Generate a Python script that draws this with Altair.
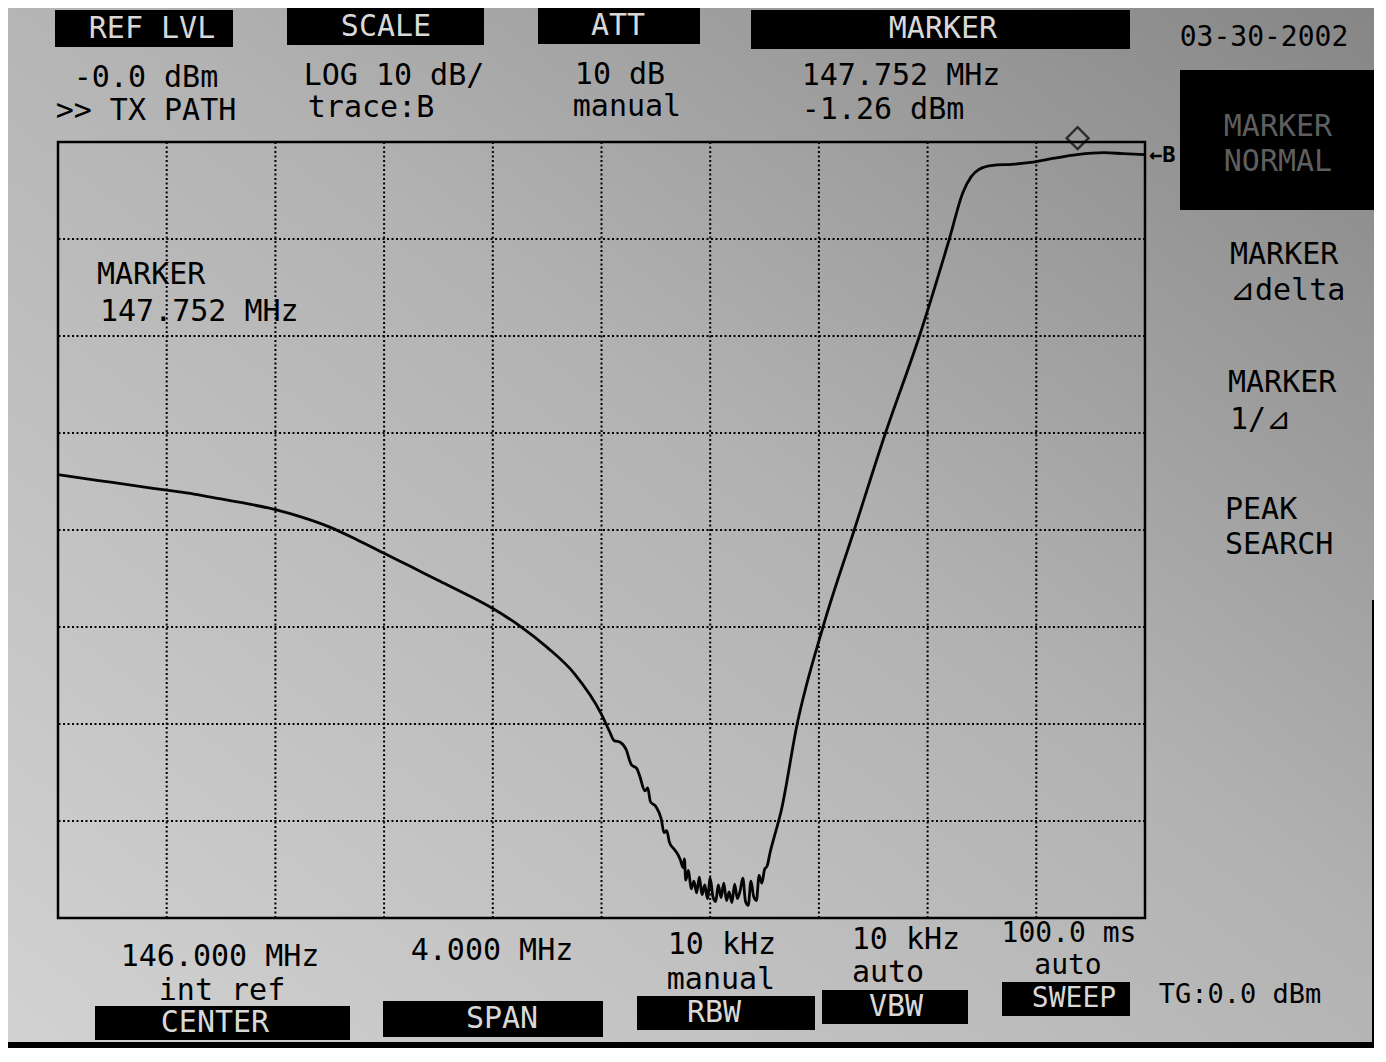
import altair as alt
import pandas as pd

freq_mhz = [
    144.00, 144.10, 144.20, 144.30, 144.40, 144.50, 144.60, 144.70, 144.80, 144.90,
    145.00, 145.10, 145.20, 145.30, 145.40, 145.50, 145.60, 145.70, 145.80, 145.90,
    146.00, 146.03, 146.046, 146.07, 146.09, 146.11, 146.13, 146.14, 146.16, 146.17,
    146.18, 146.20, 146.22, 146.23, 146.24, 146.25, 146.27, 146.28, 146.29, 146.30,
    146.305, 146.31, 146.32, 146.33, 146.34, 146.35, 146.36, 146.37, 146.38, 146.39,
    146.40, 146.41, 146.42, 146.43, 146.44, 146.45, 146.46, 146.47, 146.48, 146.49,
    146.50, 146.51, 146.52, 146.53, 146.54, 146.55, 146.56, 146.57, 146.58, 146.59,
    146.60, 146.61, 146.62, 146.64, 146.66, 146.72, 146.815, 146.93, 147.045, 147.17,
    147.28, 147.33, 147.36, 147.39, 147.44, 147.51, 147.58, 147.66, 147.75, 147.85,
    147.92, 148.00,
]
level_dbm = [
    -34.3, -34.7, -35.1, -35.5, -35.9, -36.3, -36.8, -37.3, -37.9, -38.7,
    -39.7, -41.0, -42.4, -43.8, -45.2, -46.6, -48.1, -49.9, -52.1, -54.8,
    -59.0, -60.8, -61.7, -61.9, -62.6, -64.2, -64.6, -65.3, -66.9, -66.6,
    -68.0, -68.5, -69.8, -71.2, -71.0, -72.2, -73.0, -73.4, -74.0, -74.8,
    -73.9, -76.1, -75.1, -77.0, -76.2, -77.4, -75.8, -77.6, -76.6, -78.0,
    -75.9, -77.8, -78.3, -76.6, -77.9, -76.4, -78.2, -77.3, -78.4, -76.5,
    -78.0, -77.2, -75.9, -78.3, -78.7, -76.2, -77.8, -78.2, -75.6, -76.4,
    -75.0, -74.6, -73.3, -71.2, -69.1, -60.0, -50.0, -40.0, -30.0, -20.0,
    -10.0, -5.2, -3.6, -2.8, -2.4, -2.3, -2.1, -1.7, -1.3, -1.1,
    -1.2, -1.3,
]
marker_freq = [147.752]
marker_level = [-1.26]
x_grid = [144.4, 144.8, 145.2, 145.6, 146.0, 146.4, 146.8, 147.2, 147.6]
y_grid = [-10, -20, -30, -40, -50, -60, -70]
x_domain = [144.0, 148.0]
y_domain = [-80.0, 0.0]

# ---- layout ----
OX, OY = 58, 142          # plot origin in page pixels
W, H = 1087, 776          # plot area
PAD = {"left": 50, "top": 134, "right": 229, "bottom": 130}
FONT = "DejaVu Sans Mono"
FS = 30

xs = alt.Scale(domain=x_domain, nice=False, zero=False)
ys = alt.Scale(domain=y_domain, nice=False, zero=False)
one = alt.Data(values=[{"k": 1}])


def txt(s, px, py, size=FS, color="black", align="center", weight="normal"):
    return alt.Chart(one).mark_text(
        text=s, fontSize=size, color=color, align=align, baseline="middle",
        font=FONT, fontWeight=weight
    ).encode(x=alt.value(px - OX), y=alt.value(py - OY))


def box(x1, y1, x2, y2, color="black"):
    return alt.Chart(one).mark_rect(color=color).encode(
        x=alt.value(x1 - OX), x2=alt.value(x2 - OX),
        y=alt.value(y1 - OY), y2=alt.value(y2 - OY)
    )


grad = alt.LinearGradient(
    gradient="linear",
    stops=[alt.GradientStop(offset=0, color="#d2d2d2"),
           alt.GradientStop(offset=0.55, color="#b2b2b2"),
           alt.GradientStop(offset=1, color="#868686")],
    x1=0, x2=1, y1=1, y2=0,
)
bg = alt.Chart(one).mark_rect(color=grad).encode(
    x=alt.value(-PAD["left"]), x2=alt.value(W + PAD["right"]),
    y=alt.value(-PAD["top"]), y2=alt.value(H + PAD["bottom"])
)

trace_df = pd.DataFrame({"f": freq_mhz, "dbm": level_dbm})
vgrid = alt.Chart(pd.DataFrame({"f": x_grid})).mark_rule(
    color="#000000", strokeDash=[2, 2.5], strokeWidth=2
).encode(x=alt.X("f:Q", scale=xs, axis=None))
hgrid = alt.Chart(pd.DataFrame({"d": y_grid})).mark_rule(
    color="#000000", strokeDash=[2, 2.5], strokeWidth=2
).encode(y=alt.Y("d:Q", scale=ys, axis=None))

trace = alt.Chart(trace_df).mark_line(
    color="#050505", strokeWidth=2.8, interpolate="monotone"
).encode(
    x=alt.X("f:Q", scale=xs, axis=None),
    y=alt.Y("dbm:Q", scale=ys, axis=None),
)
marker = alt.Chart(pd.DataFrame({"f": marker_freq, "dbm": marker_level})).mark_point(
    shape="diamond", filled=False, color="black", size=480, strokeWidth=2.4, yOffset=-16
).encode(x=alt.X("f:Q", scale=xs), y=alt.Y("dbm:Q", scale=ys))

frame = alt.Chart(one).mark_rect(fillOpacity=0, stroke="black", strokeWidth=2.5).encode(
    x=alt.value(0), x2=alt.value(W), y=alt.value(0), y2=alt.value(H)
)

L = "#d8d8d8"
layers = [bg, vgrid, hgrid, trace, marker, frame,
          # outer dark edges of the photo
          box(1372, 600, 1400, 1080), box(-10, 1042, 1400, 1080),
          # header boxes
          box(55, 10, 233, 47), txt("REF LVL", 152, 29, color=L),
          box(287, 8, 484, 45), txt("SCALE", 386, 27, color=L),
          box(538, 8, 700, 44), txt("ATT", 618, 26, color=L),
          box(751, 10, 1130, 49), txt("MARKER", 943, 29, color=L),
          txt("03-30-2002", 1264, 38, size=28),
          box(1180, 70, 1376, 210), txt("MARKER", 1278, 127, color="#5e5e5e"),
          txt("NORMAL", 1278, 162, color="#5e5e5e"),
          # header values
          txt("-0.0 dBm", 146, 78), txt(">> TX PATH", 146, 111),
          txt("LOG 10 dB/", 394, 76), txt("trace:B", 371, 108),
          txt("10 dB", 620, 75), txt("manual", 627, 107),
          txt("147.752 MHz", 901, 76), txt("-1.26 dBm", 883, 110),
          # in-plot marker readout
          txt("MARKER", 97, 275, align="left"), txt("147.752 MHz", 100, 312, align="left"),
          txt("\u2190B", 1149, 155, size=22, align="left", weight="bold"),
          # right soft-key labels
          txt("MARKER", 1230, 255, align="left"), txt("\u22bfdelta", 1230, 291, align="left"),
          txt("MARKER", 1228, 383, align="left"), txt("1/\u22bf", 1230, 420, align="left"),
          txt("PEAK", 1225, 510, align="left"), txt("SEARCH", 1225, 545, align="left"),
          # bottom readouts
          txt("146.000 MHz", 220, 957), txt("int ref", 222, 991),
          box(95, 1006, 350, 1040), txt("CENTER", 215, 1023, color=L),
          txt("4.000 MHz", 492, 951),
          box(383, 1001, 603, 1037), txt("SPAN", 502, 1019, color=L),
          txt("10 kHz", 722, 945), txt("manual", 721, 980),
          box(637, 996, 815, 1030), txt("RBW", 714, 1013, color=L),
          txt("10 kHz", 906, 940), txt("auto", 888, 973),
          box(822, 990, 968, 1024), txt("VBW", 896, 1007, color=L),
          txt("100.0 ms", 1069, 934, size=28), txt("auto", 1068, 966, size=28),
          box(1002, 982, 1130, 1016), txt("SWEEP", 1074, 999, size=28, color=L),
          txt("TG:0.0 dBm", 1240, 995, size=27),
          ]

chart = alt.layer(*layers).properties(
    width=W, height=H, padding=PAD, autosize="none"
).configure_view(stroke=None).configure(background="#202020")

chart.save("out.html", embed_options={"renderer": "svg", "actions": False})
